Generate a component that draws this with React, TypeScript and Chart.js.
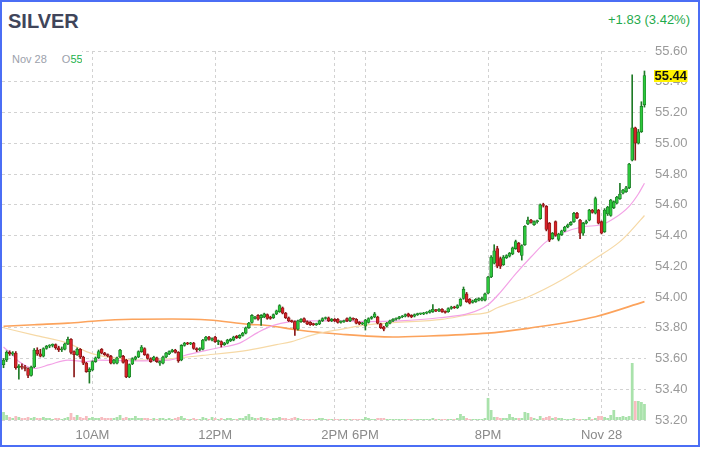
import React, { useEffect, useRef } from "react";
import { Chart, registerables } from "chart.js";

Chart.register(...registerables);

// 3-minute candles, index 0..209
const OPEN = [
  53.56, 53.59, 53.64, 53.63, 53.635, 53.54, 53.55, 53.545, 53.535, 53.49,
  53.545, 53.655, 53.63, 53.615, 53.665, 53.68, 53.685, 53.69, 53.67, 53.655,
  53.66, 53.695, 53.725, 53.645, 53.625, 53.66, 53.61, 53.57, 53.515, 53.525,
  53.58, 53.605, 53.66, 53.635, 53.625, 53.615, 53.57, 53.57, 53.61, 53.615,
  53.59, 53.48, 53.565, 53.595, 53.61, 53.645, 53.665, 53.625, 53.60, 53.59,
  53.605, 53.57, 53.57, 53.61, 53.63, 53.645, 53.655, 53.64, 53.59, 53.685,
  53.70, 53.695, 53.70, 53.665, 53.655, 53.66, 53.72, 53.74, 53.72, 53.74,
  53.71, 53.71, 53.69, 53.70, 53.715, 53.72, 53.745, 53.735, 53.75, 53.765,
  53.80, 53.835, 53.86, 53.88, 53.865, 53.87, 53.885, 53.87, 53.865, 53.89,
  53.905, 53.93, 53.895, 53.865, 53.845, 53.84, 53.79, 53.84, 53.86, 53.84,
  53.835, 53.825, 53.82, 53.825, 53.845, 53.86, 53.865, 53.845, 53.855, 53.855,
  53.835, 53.84, 53.86, 53.845, 53.86, 53.855, 53.835, 53.825, 53.81, 53.835,
  53.86, 53.87, 53.87, 53.825, 53.805, 53.81, 53.83, 53.845, 53.855, 53.86,
  53.87, 53.875, 53.89, 53.88, 53.875, 53.885, 53.89, 53.89, 53.895, 53.90,
  53.905, 53.915, 53.91, 53.92, 53.905, 53.905, 53.925, 53.935, 53.93, 53.945,
  53.99, 54.02, 53.985, 53.965, 53.97, 53.98, 53.98, 53.98, 54.025, 54.13,
  54.22, 54.315, 54.25, 54.21, 54.255, 54.265, 54.28, 54.315, 54.35, 54.27,
  54.34, 54.475, 54.50, 54.47, 54.49, 54.51, 54.60, 54.59, 54.48, 54.38,
  54.49, 54.375, 54.405, 54.43, 54.455, 54.47, 54.49, 54.545, 54.50, 54.415,
  54.48, 54.50, 54.565, 54.545, 54.565, 54.49, 54.425, 54.54, 54.53, 54.58,
  54.61, 54.64, 54.675, 54.685, 54.71, 54.89, 55.10, 55.00, 55.075, 55.25,
];
const HIGH = [
  53.60, 53.65, 53.65, 53.645, 53.645, 53.56, 53.565, 53.555, 53.54, 53.55,
  53.665, 53.67, 53.66, 53.67, 53.685, 53.69, 53.695, 53.695, 53.68, 53.675,
  53.70, 53.74, 53.73, 53.65, 53.67, 53.665, 53.615, 53.575, 53.54, 53.585,
  53.61, 53.655, 53.665, 53.64, 53.63, 53.62, 53.595, 53.61, 53.66, 53.62,
  53.595, 53.565, 53.605, 53.615, 53.65, 53.685, 53.67, 53.63, 53.605, 53.615,
  53.61, 53.585, 53.615, 53.64, 53.65, 53.66, 53.66, 53.645, 53.69, 53.705,
  53.705, 53.705, 53.705, 53.67, 53.67, 53.725, 53.745, 53.745, 53.735, 53.745,
  53.72, 53.715, 53.705, 53.725, 53.73, 53.745, 53.75, 53.755, 53.77, 53.805,
  53.835, 53.885, 53.875, 53.885, 53.885, 53.895, 53.89, 53.875, 53.89, 53.915,
  53.95, 53.935, 53.90, 53.87, 53.85, 53.845, 53.85, 53.86, 53.865, 53.845,
  53.84, 53.83, 53.83, 53.85, 53.865, 53.87, 53.87, 53.86, 53.86, 53.86,
  53.845, 53.85, 53.865, 53.87, 53.865, 53.86, 53.84, 53.835, 53.855, 53.865,
  53.875, 53.90, 53.875, 53.83, 53.81, 53.835, 53.85, 53.86, 53.865, 53.875,
  53.88, 53.89, 53.895, 53.885, 53.89, 53.895, 53.895, 53.90, 53.905, 53.915,
  53.95, 53.92, 53.925, 53.925, 53.91, 53.93, 53.94, 53.94, 53.95, 53.99,
  54.065, 54.03, 53.99, 53.98, 53.99, 53.995, 54.00, 54.025, 54.135, 54.27,
  54.34, 54.33, 54.26, 54.27, 54.275, 54.29, 54.325, 54.37, 54.355, 54.34,
  54.465, 54.52, 54.505, 54.495, 54.50, 54.605, 54.61, 54.595, 54.485, 54.42,
  54.495, 54.415, 54.435, 54.46, 54.475, 54.49, 54.55, 54.55, 54.505, 54.485,
  54.50, 54.57, 54.57, 54.65, 54.57, 54.495, 54.575, 54.59, 54.635, 54.625,
  54.655, 54.74, 54.70, 54.72, 54.87, 55.445, 55.105, 55.09, 55.27, 55.47,
];
const LOW = [
  53.54, 53.58, 53.62, 53.62, 53.53, 53.465, 53.53, 53.52, 53.475, 53.485,
  53.54, 53.62, 53.61, 53.61, 53.66, 53.67, 53.675, 53.66, 53.645, 53.645,
  53.655, 53.69, 53.63, 53.48, 53.62, 53.60, 53.56, 53.51, 53.44, 53.52,
  53.575, 53.60, 53.63, 53.62, 53.61, 53.565, 53.565, 53.565, 53.605, 53.57,
  53.475, 53.475, 53.56, 53.59, 53.605, 53.64, 53.62, 53.595, 53.575, 53.585,
  53.575, 53.555, 53.565, 53.605, 53.625, 53.64, 53.635, 53.575, 53.585, 53.68,
  53.69, 53.69, 53.66, 53.645, 53.65, 53.655, 53.715, 53.72, 53.715, 53.705,
  53.69, 53.675, 53.685, 53.695, 53.71, 53.715, 53.73, 53.73, 53.745, 53.76,
  53.795, 53.83, 53.855, 53.85, 53.815, 53.865, 53.855, 53.855, 53.86, 53.885,
  53.90, 53.89, 53.86, 53.84, 53.835, 53.75, 53.785, 53.835, 53.835, 53.82,
  53.815, 53.815, 53.815, 53.82, 53.84, 53.855, 53.84, 53.84, 53.84, 53.83,
  53.83, 53.835, 53.84, 53.84, 53.85, 53.825, 53.82, 53.82, 53.785, 53.83,
  53.855, 53.865, 53.825, 53.795, 53.78, 53.805, 53.825, 53.84, 53.85, 53.855,
  53.865, 53.87, 53.87, 53.865, 53.87, 53.88, 53.885, 53.885, 53.89, 53.895,
  53.90, 53.905, 53.905, 53.90, 53.895, 53.90, 53.92, 53.925, 53.925, 53.94,
  53.985, 53.965, 53.955, 53.96, 53.965, 53.975, 53.975, 53.975, 54.02, 54.125,
  54.215, 54.19, 54.185, 54.205, 54.25, 54.26, 54.275, 54.31, 54.29, 54.24,
  54.335, 54.47, 54.48, 54.465, 54.48, 54.505, 54.585, 54.43, 54.36, 54.375,
  54.395, 54.365, 54.40, 54.425, 54.45, 54.465, 54.485, 54.51, 54.38, 54.40,
  54.475, 54.495, 54.545, 54.54, 54.475, 54.41, 54.42, 54.53, 54.525, 54.575,
  54.605, 54.635, 54.67, 54.68, 54.705, 54.885, 54.89, 54.995, 55.07, 55.235,
];
const CLOSE = [
  53.59, 53.64, 53.63, 53.635, 53.54, 53.55, 53.545, 53.535, 53.49, 53.545,
  53.655, 53.63, 53.615, 53.665, 53.68, 53.685, 53.69, 53.67, 53.655, 53.66,
  53.695, 53.725, 53.64, 53.625, 53.66, 53.61, 53.57, 53.515, 53.53, 53.58,
  53.605, 53.645, 53.635, 53.625, 53.615, 53.57, 53.59, 53.605, 53.655, 53.575,
  53.48, 53.56, 53.60, 53.61, 53.645, 53.675, 53.625, 53.60, 53.58, 53.61,
  53.58, 53.58, 53.61, 53.635, 53.645, 53.655, 53.64, 53.585, 53.685, 53.70,
  53.695, 53.70, 53.665, 53.655, 53.665, 53.72, 53.74, 53.725, 53.73, 53.71,
  53.715, 53.69, 53.70, 53.72, 53.725, 53.74, 53.735, 53.75, 53.765, 53.80,
  53.83, 53.88, 53.87, 53.855, 53.88, 53.89, 53.86, 53.86, 53.885, 53.91,
  53.945, 53.895, 53.865, 53.845, 53.84, 53.79, 53.845, 53.855, 53.84, 53.825,
  53.82, 53.82, 53.825, 53.845, 53.86, 53.865, 53.845, 53.855, 53.845, 53.835,
  53.84, 53.845, 53.845, 53.865, 53.855, 53.83, 53.825, 53.83, 53.85, 53.86,
  53.87, 53.89, 53.83, 53.80, 53.79, 53.83, 53.845, 53.855, 53.86, 53.87,
  53.875, 53.885, 53.875, 53.87, 53.885, 53.89, 53.89, 53.895, 53.90, 53.91,
  53.92, 53.91, 53.92, 53.905, 53.90, 53.925, 53.935, 53.93, 53.945, 53.985,
  54.05, 53.97, 53.96, 53.975, 53.985, 53.99, 53.99, 54.02, 54.13, 54.26,
  54.30, 54.20, 54.20, 54.26, 54.27, 54.285, 54.32, 54.36, 54.295, 54.335,
  54.46, 54.50, 54.485, 54.49, 54.495, 54.60, 54.595, 54.44, 54.37, 54.415,
  54.40, 54.41, 54.43, 54.455, 54.47, 54.485, 54.545, 54.515, 54.415, 54.48,
  54.49, 54.565, 54.55, 54.64, 54.48, 54.415, 54.565, 54.585, 54.63, 54.62,
  54.65, 54.67, 54.695, 54.71, 54.865, 55.10, 55.00, 55.075, 55.24, 55.44,
];
const VOLUME = [
  8, 5, 3, 2, 4, 3, 2, 2, 3, 2,
  3, 2, 2, 3, 2, 2, 1, 2, 2, 1,
  2, 3, 7, 3, 5, 3, 2, 4, 2, 3,
  2, 2, 3, 2, 2, 2, 2, 3, 5, 2,
  3, 2, 2, 4, 2, 2, 2, 2, 1, 2,
  1, 2, 2, 1, 2, 1, 2, 3, 4, 2,
  1, 1, 2, 1, 1, 3, 2, 1, 3, 2,
  1, 2, 1, 2, 2, 1, 1, 2, 2, 4,
  6, 3, 2, 2, 3, 2, 2, 1, 2, 2,
  3, 2, 2, 1, 2, 3, 2, 1, 1, 1,
  1, 1, 1, 2, 2, 1, 1, 1, 1, 1,
  1, 1, 1, 1, 1, 1, 1, 1, 3, 2,
  1, 1, 2, 2, 2, 1, 1, 1, 1, 1,
  1, 1, 1, 1, 1, 1, 1, 1, 1, 1,
  2, 1, 1, 1, 1, 1, 1, 1, 2, 6,
  4, 2, 1, 1, 1, 1, 1, 2, 22, 10,
  3, 3, 2, 2, 2, 6, 3, 2, 2, 2,
  8, 7, 3, 2, 1, 4, 2, 3, 4, 2,
  3, 2, 2, 1, 1, 1, 2, 1, 1, 1,
  1, 3, 1, 2, 4, 4, 3, 2, 5, 10,
  3, 3, 4, 3, 4, 57, 19, 19, 18, 16,
];

// Moving averages read at selected candle indices
const MA_FAST_IDX = [0, 3, 5, 10, 15, 21, 27, 31, 42, 54, 60, 69, 77, 83, 88, 97, 110, 119, 129, 142, 152, 158, 162, 167, 172, 177, 182, 189, 195, 199, 204, 207, 209];
const MA_FAST_VAL = [53.675, 53.62, 53.58, 53.535, 53.56, 53.59, 53.58, 53.59, 53.585, 53.59, 53.625, 53.665, 53.70, 53.77, 53.815, 53.845, 53.845, 53.84, 53.845, 53.865, 53.895, 53.95, 54.03, 54.15, 54.26, 54.36, 54.414, 54.457, 54.47, 54.51, 54.59, 54.67, 54.74];
const MA_MID_IDX = [0, 10, 21, 27, 31, 38, 45, 55, 65, 80, 89, 94, 102, 110, 119, 127, 143, 152, 158, 161, 171, 182, 193, 201, 205, 209];
const MA_MID_VAL = [53.80, 53.752, 53.70, 53.645, 53.62, 53.60, 53.59, 53.60, 53.62, 53.655, 53.69, 53.71, 53.76, 53.79, 53.82, 53.833, 53.855, 53.885, 53.90, 53.93, 54.00, 54.11, 54.25, 54.36, 54.44, 54.53];
const MA_SLOW_IDX = [0, 10, 21, 31, 42, 55, 67, 80, 86, 96, 110, 127, 137, 158, 163, 171, 193, 209];
const MA_SLOW_VAL = [53.81, 53.82, 53.83, 53.846, 53.855, 53.857, 53.85, 53.822, 53.815, 53.785, 53.758, 53.74, 53.745, 53.765, 53.775, 53.796, 53.872, 53.97];

const TICK_INDEX = [29, 69, 108, 118, 158, 195];
const TICK_LABELS = ["10AM", "12PM", "2PM", "6PM", "8PM", "Nov 28"];
const Y_MIN = 53.2;
const Y_MAX = 55.6;
const Y_STEP = 0.2;
const VOL_AXIS_MAX = 369;

const N = CLOSE.length;
const CATEGORIES = CLOSE.map((_, i) => String(i));
const LAST_PRICE = CLOSE[N - 1];
const FONT = "'Liberation Sans', Arial, Helvetica, sans-serif";

function sparse(idx: number[], val: number[]) {
  const out: (number | null)[] = new Array(N).fill(null);
  idx.forEach((k, j) => {
    out[k] = val[j];
  });
  return out;
}

const priceTag = {
  id: "priceTag",
  afterDraw(chart: any) {
    const ctx = chart.ctx;
    const y = chart.scales.y.getPixelForValue(LAST_PRICE);
    const x = chart.chartArea.right + 8;
    const text = LAST_PRICE.toFixed(2);
    ctx.save();
    ctx.font = `bold 13px ${FONT}`;
    const w = ctx.measureText(text).width + 1;
    ctx.fillStyle = "#fff200";
    ctx.fillRect(x, Math.round(y) - 6, w, 12);
    ctx.fillStyle = "#111111";
    ctx.textBaseline = "middle";
    ctx.textAlign = "left";
    ctx.fillText(text, x + 0.5, Math.round(y) + 0.5);
    ctx.restore();
  },
};

export default function App() {
  const ref = useRef<HTMLCanvasElement>(null);

  useEffect(() => {
    const up = CLOSE.map((c, i) => c >= OPEN[i]);
    const bodyFill = up.map((u) => (u ? "#2cc83c" : "#d8232a"));
    const edge = up.map((u) => (u ? "#1e7a26" : "#8a1717"));
    const volFill = up.map((u) => (u ? "#a9e2ab" : "#f7bcc0"));

    const chart = new Chart(ref.current as HTMLCanvasElement, {
      type: "bar",
      data: {
        labels: CATEGORIES,
        datasets: [
          {
            type: "bar",
            label: "Volume",
            data: VOLUME,
            yAxisID: "yv",
            backgroundColor: volFill,
            barPercentage: 0.9,
            categoryPercentage: 1,
            grouped: false,
            order: 10,
          } as any,
          {
            type: "line",
            label: "MA slow",
            data: sparse(MA_SLOW_IDX, MA_SLOW_VAL),
            yAxisID: "y",
            borderColor: "#fca35c",
            borderWidth: 1.6,
            pointRadius: 0,
            spanGaps: true,
            cubicInterpolationMode: "monotone",
            order: 6,
          } as any,
          {
            type: "line",
            label: "MA mid",
            data: sparse(MA_MID_IDX, MA_MID_VAL),
            yAxisID: "y",
            borderColor: "#f6d9a6",
            borderWidth: 1.2,
            pointRadius: 0,
            spanGaps: true,
            cubicInterpolationMode: "monotone",
            order: 5,
          } as any,
          {
            type: "line",
            label: "MA fast",
            data: sparse(MA_FAST_IDX, MA_FAST_VAL),
            yAxisID: "y",
            borderColor: "#f3a2e6",
            borderWidth: 1.2,
            pointRadius: 0,
            spanGaps: true,
            cubicInterpolationMode: "monotone",
            order: 4,
          } as any,
          {
            type: "bar",
            label: "Wick",
            data: HIGH.map((h, i) => [LOW[i], h]),
            yAxisID: "y",
            backgroundColor: edge,
            barThickness: 1,
            grouped: false,
            order: 2,
          } as any,
          {
            type: "bar",
            label: "Body",
            data: OPEN.map((o, i) => [o, CLOSE[i]]),
            yAxisID: "y",
            backgroundColor: bodyFill,
            borderColor: edge,
            borderWidth: 0.8,
            borderSkipped: false,
            barThickness: 3,
            minBarLength: 1,
            grouped: false,
            order: 1,
          } as any,
        ],
      },
      options: {
        responsive: false,
        animation: false,
        devicePixelRatio: 1,
        layout: { padding: 0 },
        plugins: { legend: { display: false }, tooltip: { enabled: false } },
        scales: {
          x: {
            type: "category",
            offset: true,
            grid: { offset: false, color: "#d2d2d2", drawTicks: false, lineWidth: 1 },
            border: { display: false, dash: [3, 3] },
            ticks: {
              autoSkip: false,
              maxRotation: 0,
              minRotation: 0,
              padding: 8,
              color: "#8a8a8a",
              font: { size: 13, family: FONT },
              callback: (v: any) => {
                const k = TICK_INDEX.indexOf(Number(v));
                return k >= 0 ? TICK_LABELS[k] : "";
              },
            },
            afterBuildTicks: (s: any) => {
              s.ticks = TICK_INDEX.map((v) => ({ value: v }));
            },
            afterFit: (s: any) => {
              s.height = 25;
            },
          },
          y: {
            position: "right",
            min: Y_MIN,
            max: Y_MAX,
            grid: { color: "#d2d2d2", drawTicks: false, lineWidth: 1 },
            border: { display: false, dash: [3, 3] },
            ticks: {
              stepSize: Y_STEP,
              padding: 9,
              color: "#9a9a9a",
              font: { size: 13, family: FONT, lineHeight: "16px" },
              callback: (v: any) => Number(v).toFixed(2),
            },
            afterFit: (s: any) => {
              s.width = 52;
            },
          },
          yv: {
            display: false,
            min: 0,
            max: VOL_AXIS_MAX,
            grid: { display: false },
          },
        },
      } as any,
      plugins: [priceTag],
    });
    return () => chart.destroy();
  }, []);

  return (
    <div
      style={{
        position: "fixed",
        left: 0,
        top: 0,
        width: 700,
        height: 447,
        boxSizing: "border-box",
        border: "2px solid #4b6ef5",
        background: "#ffffff",
        fontFamily: FONT,
      }}
    >
      <div
        style={{
          position: "absolute",
          left: 6,
          top: 9,
          fontSize: 20,
          fontWeight: 700,
          lineHeight: "20px",
          color: "#40455a",
        }}
      >
        SILVER
      </div>
      <div
        style={{
          position: "absolute",
          right: 8,
          top: 10,
          fontSize: 13,
          lineHeight: "16px",
          color: "#1faa4c",
        }}
      >
        +1.83 (3.42%)
      </div>
      <canvas
        ref={ref}
        width={696}
        height={411}
        style={{ position: "absolute", left: 0, top: 32, display: "block", width: 696, height: 411 }}
      />
      <div
        style={{
          position: "absolute",
          left: 0,
          top: 47,
          width: 80,
          height: 18,
          paddingTop: 2,
          paddingLeft: 10,
          boxSizing: "border-box",
          background: "#ffffff",
          overflow: "hidden",
          whiteSpace: "nowrap",
          fontSize: 11,
          lineHeight: "16px",
        }}
      >
        <span style={{ color: "#9ca1ab" }}>Nov 28</span>
        <span style={{ color: "#9ca1ab", marginLeft: 15 }}>O</span>
        <span style={{ color: "#22b24c" }}>55.25</span>
      </div>
    </div>
  );
}
